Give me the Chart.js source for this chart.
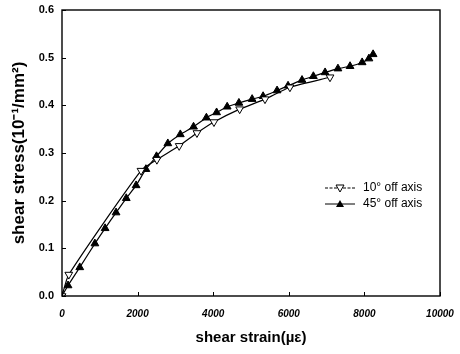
<!DOCTYPE html>
<html>
<head>
<meta charset="utf-8">
<script src="https://cdn.jsdelivr.net/npm/chart.js@4/dist/chart.umd.min.js"></script>
<style>
  body { margin: 0; background: #fff; }
  #wrap { width: 460px; height: 354px; }
</style>
</head>
<body>
<div id="wrap"><canvas id="chart-area" width="460" height="354"></canvas></div>
<script>
// shear strain (µε) / shear stress readings
let strainTen = [0, 180, 2090, 2510, 3100, 3570, 4020, 4700, 5370, 6030, 7090];
let stressTen = [0, 0.045, 0.263, 0.286, 0.315, 0.342, 0.365, 0.392, 0.413, 0.438, 0.459];

let strainFortyFive = [0, 160, 470, 870, 1140, 1430, 1700, 1960, 2220, 2500, 2800, 3130, 3480, 3820, 4090, 4370, 4680, 5030, 5320, 5690, 5980, 6350, 6650, 6960, 7300, 7620, 7940, 8120, 8230];
let stressFortyFive = [0, 0.022, 0.06, 0.11, 0.142, 0.175, 0.205, 0.232, 0.266, 0.293, 0.32, 0.339, 0.355, 0.374, 0.385, 0.397, 0.405, 0.413, 0.419, 0.431, 0.441, 0.453, 0.461, 0.469, 0.477, 0.482, 0.49, 0.498, 0.507];

let seriesLabels = ['10\u00b0 off axis', '45\u00b0 off axis'];
let xTicks = [0, 2000, 4000, 6000, 8000, 10000];
let yTicks = [0, 0.1, 0.2, 0.3, 0.4, 0.5, 0.6];

function pairs(xs, ys) {
  return xs.map(function (x, i) { return { x: x, y: ys[i] }; });
}

// frame + inward tick marks + legend inside the plot
let framePlugin = {
  id: 'frame',
  afterDraw: function (chart) {
    let c = chart.ctx;
    let a = chart.chartArea;
    let xs = chart.scales.x;
    let ys = chart.scales.y;
    c.save();
    c.strokeStyle = '#000';
    c.lineWidth = 1.4;
    c.strokeRect(a.left, a.top, a.right - a.left, a.bottom - a.top);
    c.lineWidth = 1;
    c.beginPath();
    xTicks.forEach(function (t) {
      let px = Math.round(xs.getPixelForValue(t)) + 0.5;
      c.moveTo(px, a.bottom);
      c.lineTo(px, a.bottom - 4);
    });
    yTicks.forEach(function (t) {
      let py = Math.round(ys.getPixelForValue(t)) + 0.5;
      c.moveTo(a.left, py);
      c.lineTo(a.left + 4, py);
    });
    c.stroke();

    // legend
    let lx = 325, ly = [188, 204];
    chart.data.datasets.forEach(function (ds, i) {
      let y = ly[i];
      c.strokeStyle = '#000';
      c.lineWidth = 1;
      if (i === 0) c.setLineDash([3, 1.5]); else c.setLineDash([]);
      c.beginPath();
      c.moveTo(lx, y);
      c.lineTo(lx + 30, y);
      c.stroke();
      c.setLineDash([]);
      c.beginPath();
      let mx = lx + 15;
      if (i === 0) {
        c.moveTo(mx - 4, y - 3);
        c.lineTo(mx + 4, y - 3);
        c.lineTo(mx, y + 4);
        c.closePath();
        c.fillStyle = '#fff';
        c.fill();
        c.stroke();
      } else {
        c.moveTo(mx - 4, y + 3);
        c.lineTo(mx + 4, y + 3);
        c.lineTo(mx, y - 4);
        c.closePath();
        c.fillStyle = '#000';
        c.fill();
      }
      c.fillStyle = '#000';
      c.font = '12px "Liberation Sans", Arial, sans-serif';
      c.textBaseline = 'middle';
      c.fillText(ds.label, lx + 38, y);
    });
    c.restore();
  }
};

let ctx = document.getElementById('chart-area').getContext('2d');
let chart = new Chart(ctx, {
  type: 'line',
  data: {
    datasets: [{
      label: seriesLabels[0],
      data: pairs(strainTen, stressTen),
      borderColor: '#000',
      borderWidth: 1.2,
      pointStyle: 'triangle',
      rotation: 180,
      pointRadius: 4.5,
      pointBackgroundColor: '#fff',
      pointBorderColor: '#000',
      pointBorderWidth: 1,
      tension: 0.2
    }, {
      label: seriesLabels[1],
      data: pairs(strainFortyFive, stressFortyFive),
      borderColor: '#000',
      borderWidth: 1.2,
      pointStyle: 'triangle',
      pointRadius: 4.5,
      pointBackgroundColor: '#000',
      pointBorderColor: '#000',
      pointBorderWidth: 1,
      tension: 0.2
    }]
  },
  options: {
    responsive: false,
    animation: false,
    layout: { padding: { left: 0, top: 10, right: 20, bottom: 0 } },
    plugins: {
      legend: { display: false },
      tooltip: { enabled: false }
    },
    scales: {
      x: {
        type: 'linear',
        min: 0,
        max: 10000,
        afterBuildTicks: function (s) { s.ticks = xTicks.map(function (v) { return { value: v }; }); },
        afterFit: function (s) { s.height = 58; },
        grid: { display: false },
        border: { display: false },
        ticks: {
          padding: 4,
          color: '#000',
          font: { family: '"Liberation Sans", Arial, sans-serif', size: 10, weight: 'bold', style: 'italic' },
          maxRotation: 0,
          callback: function (v) { return String(v); }
        },
        title: {
          display: true,
          text: 'shear strain(\u00b5\u03b5)',
          color: '#000',
          padding: { top: 10, bottom: 7 },
          font: { family: '"Liberation Sans", Arial, sans-serif', size: 15, weight: 'bold' }
        }
      },
      y: {
        type: 'linear',
        min: 0,
        max: 0.6,
        afterBuildTicks: function (s) { s.ticks = yTicks.map(function (v) { return { value: v }; }); },
        afterFit: function (s) { s.width = 62; },
        grid: { display: false },
        border: { display: false },
        ticks: {
          padding: 0,
          color: '#000',
          font: { family: '"Liberation Sans", Arial, sans-serif', size: 11, weight: 'bold' },
          callback: function (v) { return v.toFixed(1); }
        },
        title: {
          display: true,
          text: 'shear stress(10\u207b\u00b9/mm\u00b2)',
          color: '#000',
          padding: { top: 9, bottom: 4 },
          font: { family: '"Liberation Sans", Arial, sans-serif', size: 17, weight: 'bold' }
        }
      }
    }
  },
  plugins: [framePlugin]
});
</script>
</body>
</html>
